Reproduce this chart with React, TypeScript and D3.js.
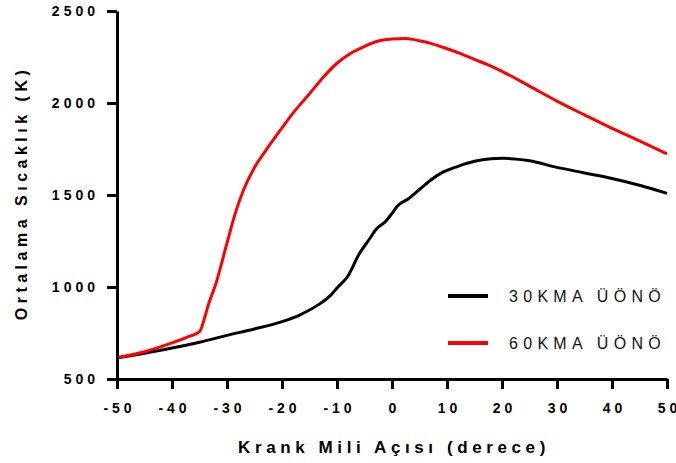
import * as d3 from "d3";
import React, { useEffect, useRef } from "react";

// crank angle (deg) and mean temperature (K)
const angles30 = [-50, -45, -40, -35, -30, -25, -20, -17, -15, -13, -11, -10, -8, -6, -4, -3, -1, 0, 1, 3, 5, 7, 9, 12, 15, 18, 20, 22.5, 25, 30, 35, 40, 45, 50];
const temps30 = [615, 640, 668, 700, 737, 772, 812, 845, 875, 911, 960, 995, 1060, 1178, 1265, 1310, 1362, 1400, 1440, 1480, 1530, 1580, 1620, 1656, 1683, 1697, 1700, 1695, 1686, 1650, 1620, 1590, 1553, 1509];

const angles60 = [-50, -45, -40, -37, -35, -34, -33.5, -32, -30, -28.5, -27, -25, -23, -20, -18, -15, -12.5, -10, -7.5, -5, -2.5, 0, 2.5, 5, 7.5, 10, 12.5, 15, 17.5, 20, 25, 30, 35, 40, 45, 50];
const temps60 = [615, 648, 696, 730, 757, 840, 893, 1020, 1239, 1400, 1527, 1650, 1740, 1865, 1945, 2050, 2140, 2216, 2270, 2308, 2337, 2348, 2350, 2338, 2320, 2295, 2268, 2237, 2207, 2172, 2092, 2010, 1935, 1862, 1794, 1723];

const xTicks = [-50, -40, -30, -20, -10, 0, 10, 20, 30, 40, 50];
const yTicks = [500, 1000, 1500, 2000, 2500];

const seriesNames = ["30KMA ÜÖNÖ", "60KMA ÜÖNÖ"];
const seriesColors = ["#000000", "#ff0000"];

const width = 676;
const height = 463;

const App = () => {
  const ref = useRef<SVGSVGElement>(null);

  useEffect(() => {
    const svg = d3.select(ref.current);
    svg.selectAll("*").remove();

    const x = d3.scaleLinear().domain([-50, 50]).range([117, 667]);
    const y = d3.scaleLinear().domain([500, 2500]).range([379, 11]);

    const font = "'Liberation Sans', Arial, sans-serif";

    const line = d3
      .line<[number, number]>()
      .x((d) => x(d[0]))
      .y((d) => y(d[1]))
      .curve(d3.curveMonotoneX);

    const series = [
      angles30.map((a, i) => [a, temps30[i]] as [number, number]),
      angles60.map((a, i) => [a, temps60[i]] as [number, number]),
    ];

    // curves (red drawn last, on top)
    series.forEach((s, i) => {
      svg
        .append("path")
        .attr("d", line(s))
        .attr("fill", "none")
        .attr("stroke", seriesColors[i])
        .attr("stroke-width", 3)
        .attr("stroke-linejoin", "round");
    });

    // y axis
    const yAxis = svg
      .append("g")
      .attr("transform", "translate(117,0)")
      .call(
        d3.axisLeft(y).tickValues(yTicks).tickFormat((d) => String(d))
          .tickSize(10).tickPadding(8).tickSizeOuter(0)
      );
    yAxis.select(".domain").attr("stroke-width", 3);
    yAxis.selectAll(".tick line").attr("stroke-width", 3);
    yAxis
      .selectAll(".tick text")
      .attr("font-family", font)
      .attr("font-weight", "bold")
      .attr("font-size", 14)
      .attr("letter-spacing", 4)
      .attr("fill", "#000");

    // x axis
    const xAxis = svg
      .append("g")
      .attr("transform", "translate(0,379)")
      .call(
        d3.axisBottom(x).tickValues(xTicks).tickFormat((d) => String(d))
          .tickSize(10).tickPadding(14).tickSizeOuter(0)
      );
    xAxis.select(".domain").attr("stroke-width", 3);
    xAxis.selectAll(".tick line").attr("stroke-width", 3);
    xAxis
      .selectAll(".tick text")
      .attr("font-family", font)
      .attr("font-weight", "bold")
      .attr("font-size", 14)
      .attr("letter-spacing", 4)
      .attr("dx", 2)
      .attr("fill", "#000");

    // axis titles
    svg
      .append("text")
      .attr("x", 394)
      .attr("y", 453)
      .attr("text-anchor", "middle")
      .attr("font-family", font)
      .attr("font-weight", "bold")
      .attr("font-size", 17)
      .attr("letter-spacing", 4.6)
      .text("Krank Mili Açısı (derece)");

    svg
      .append("text")
      .attr("transform", "translate(27,193) rotate(-90)")
      .attr("text-anchor", "middle")
      .attr("font-family", font)
      .attr("font-weight", "bold")
      .attr("font-size", 16)
      .attr("letter-spacing", 4.5)
      .text("Ortalama Sıcaklık (K)");

    // legend
    seriesNames.forEach((name, i) => {
      const ly = 296 + i * 47;
      svg
        .append("line")
        .attr("x1", 448)
        .attr("x2", 488)
        .attr("y1", ly)
        .attr("y2", ly)
        .attr("stroke", seriesColors[i])
        .attr("stroke-width", 4);
      svg
        .append("text")
        .attr("x", 509)
        .attr("y", ly + 6)
        .attr("font-family", font)
        .attr("font-size", 16)
        .attr("letter-spacing", 5.3)
        .attr("fill", "#111")
        .text(name);
    });
  }, []);

  return (
    <svg
      ref={ref}
      width={width}
      height={height}
      style={{ position: "absolute", left: 0, top: 0, background: "#fff" }}
    />
  );
};

export default App;
